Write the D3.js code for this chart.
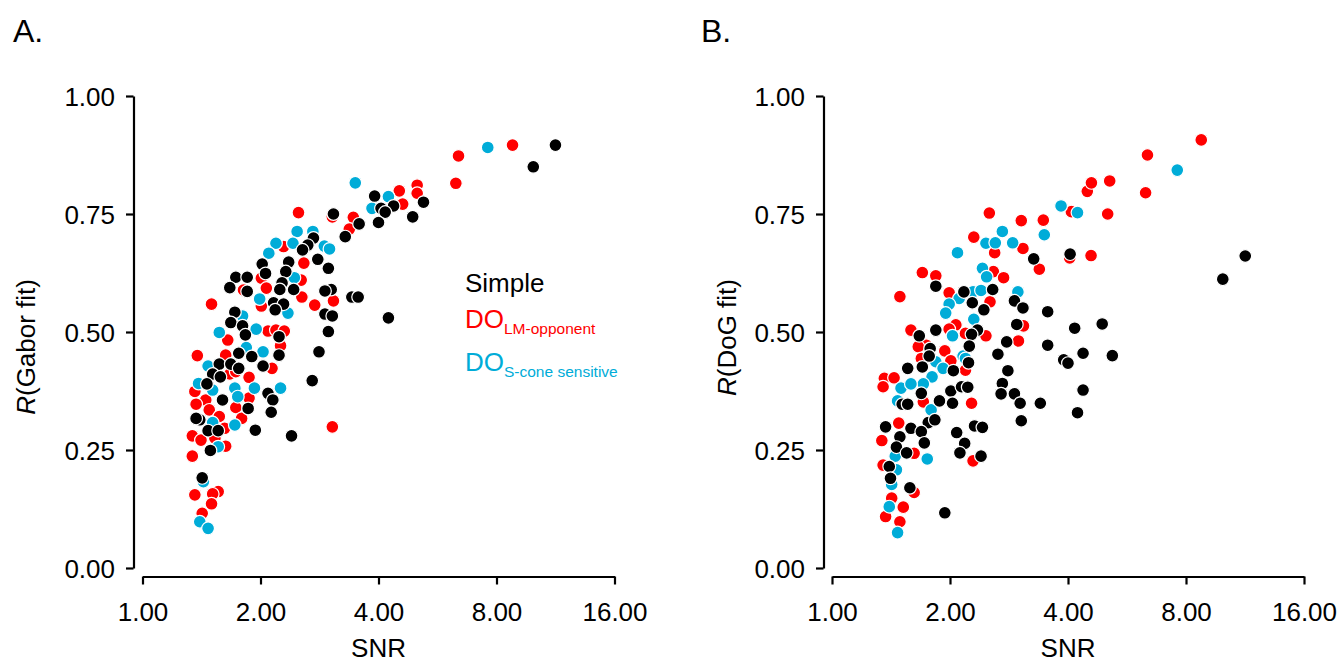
<!DOCTYPE html>
<html>
<head>
<meta charset="utf-8">
<script src="https://cdn.jsdelivr.net/npm/d3@7"></script>
<style>
  body { margin: 0; background: #fff; }
  svg { display: block; }
  text { font-family: "Liberation Sans", Arial, Helvetica, sans-serif; }
</style>
</head>
<body>
<svg id="fig" width="1343" height="664"></svg>
<script>
// Axis ticks
const xTicks = [1, 2, 4, 8, 16];
const yTicks = [0, 0.25, 0.5, 0.75, 1];

// Group names used in the legend
const groupNames = ["Simple", "LM-opponent", "S-cone sensitive"];

// Panel A: correlation of the Gabor fit vs SNR, [SNR, R]
const gaborLM = [
  [2.50,0.753],[2.29,0.681],[2.58,0.646],[2.01,0.614],[2.54,0.610],[1.81,0.589],[2.07,0.593],[2.55,0.574],
  [3.07,0.566],[2.01,0.555],[1.50,0.559],[2.75,0.557],[1.65,0.483],[2.09,0.502],[2.19,0.504],[2.30,0.502],
  [2.25,0.471],[1.63,0.451],[1.38,0.450],[2.14,0.423],[1.67,0.411],[1.87,0.404],[1.73,0.416],[1.36,0.374],
  [1.87,0.360],[1.45,0.356],[1.37,0.347],[1.48,0.335],[1.73,0.340],[1.57,0.321],[1.79,0.317],[1.62,0.296],
  [3.05,0.299],[1.34,0.280],[1.41,0.271],[1.53,0.275],[1.63,0.258],[1.34,0.237],[1.36,0.155],[1.56,0.162],
  [1.51,0.157],[1.50,0.136],[1.42,0.116],[4.52,0.799],[5.02,0.811],[5.02,0.794],[6.30,0.815],[4.61,0.771],
  [3.45,0.743],[3.37,0.718],[6.40,0.873],[8.79,0.896],[3.05,0.744]
];
const gaborS = [
  [2.48,0.713],[2.72,0.713],[2.19,0.688],[2.42,0.688],[2.91,0.682],[3.00,0.676],[2.10,0.667],[2.44,0.615],
  [1.99,0.570],[2.35,0.540],[1.80,0.534],[1.57,0.499],[1.95,0.506],[1.84,0.467],[2.03,0.458],[1.47,0.428],
  [1.39,0.391],[1.51,0.377],[1.72,0.381],[1.93,0.381],[2.25,0.381],[1.75,0.363],[1.51,0.308],[1.72,0.303],
  [1.56,0.257],[1.43,0.183],[1.40,0.098],[1.47,0.084],[3.49,0.816],[4.24,0.787],[3.85,0.762],[7.60,0.891]
];
const gaborSimple = [
  [3.07,0.750],[2.73,0.699],[2.64,0.684],[2.56,0.674],[2.80,0.654],[2.36,0.648],[2.02,0.644],[2.98,0.635],
  [2.32,0.628],[2.06,0.624],[1.73,0.616],[1.85,0.616],[2.27,0.604],[1.67,0.594],[1.85,0.586],[2.24,0.590],
  [2.43,0.590],[3.03,0.590],[2.92,0.587],[2.16,0.562],[2.29,0.559],[2.18,0.547],[2.92,0.538],[3.05,0.534],
  [1.72,0.542],[1.68,0.520],[1.80,0.513],[1.83,0.494],[2.23,0.490],[2.98,0.501],[1.76,0.455],[1.90,0.448],
  [2.23,0.451],[2.82,0.458],[1.57,0.432],[1.68,0.432],[1.76,0.423],[2.03,0.428],[1.51,0.411],[1.58,0.405],
  [1.46,0.390],[2.71,0.397],[2.09,0.370],[2.15,0.356],[1.60,0.356],[1.86,0.338],[2.13,0.330],[1.40,0.314],
  [1.37,0.317],[1.94,0.292],[2.40,0.280],[1.47,0.291],[1.56,0.291],[1.49,0.249],[1.42,0.191],[3.91,0.788],
  [4.37,0.767],[5.21,0.775],[4.06,0.762],[4.16,0.754],[4.00,0.732],[4.89,0.744],[3.57,0.729],[3.29,0.702],
  [3.42,0.574],[3.55,0.574],[4.24,0.530],[9.93,0.850],[11.31,0.896]
];

// Panel B: correlation of the DoG fit vs SNR, [SNR, R]
const dogLM = [
  [2.30,0.701],[3.07,0.677],[2.60,0.668],[2.58,0.628],[2.74,0.615],[1.70,0.626],[1.84,0.619],[1.49,0.575],
  [1.99,0.583],[2.53,0.564],[2.07,0.515],[1.59,0.504],[1.99,0.506],[2.19,0.497],[2.47,0.492],[2.99,0.481],
  [1.74,0.472],[1.66,0.469],[1.94,0.460],[1.69,0.444],[2.01,0.439],[2.19,0.419],[1.36,0.402],[1.44,0.403],
  [1.35,0.384],[1.71,0.352],[2.27,0.349],[1.48,0.307],[1.34,0.270],[1.62,0.243],[2.29,0.227],[1.35,0.218],
  [1.62,0.160],[1.42,0.148],[1.52,0.129],[1.37,0.109],[1.49,0.098],[4.48,0.798],[4.59,0.816],[6.31,0.795],
  [4.08,0.755],[5.05,0.750],[3.04,0.736],[3.46,0.737],[4.58,0.662],[3.38,0.633],[8.75,0.907],[6.38,0.875],
  [2.52,0.752],[4.04,0.657],[5.11,0.820],[3.08,0.513]
];
const dogS = [
  [2.47,0.688],[2.61,0.689],[2.72,0.713],[2.89,0.689],[2.09,0.668],[2.42,0.635],[2.48,0.617],[2.98,0.585],
  [2.29,0.585],[2.40,0.588],[2.11,0.571],[1.99,0.559],[1.95,0.540],[2.30,0.527],[2.03,0.492],[2.16,0.449],
  [2.19,0.444],[1.84,0.437],[1.92,0.423],[1.80,0.405],[1.50,0.381],[1.71,0.390],[1.59,0.390],[1.47,0.354],
  [1.79,0.335],[1.45,0.237],[1.75,0.231],[1.46,0.208],[1.42,0.177],[1.40,0.130],[1.47,0.075],[3.84,0.767],
  [4.23,0.753],[3.48,0.706],[7.60,0.843]
];
const dogSimple = [
  [1.84,0.597],[2.17,0.585],[2.57,0.590],[2.28,0.562],[2.92,0.566],[3.07,0.551],[2.44,0.547],[2.96,0.516],
  [1.84,0.504],[2.35,0.504],[2.27,0.495],[1.67,0.492],[2.79,0.479],[2.24,0.470],[1.78,0.465],[1.77,0.449],
  [2.65,0.453],[1.70,0.426],[2.23,0.435],[1.56,0.423],[2.04,0.418],[2.81,0.418],[2.72,0.391],[1.69,0.370],
  [2.01,0.375],[2.14,0.384],[2.22,0.383],[2.70,0.369],[2.92,0.369],[1.51,0.347],[1.56,0.347],[1.88,0.354],
  [2.03,0.349],[3.04,0.312],[1.37,0.299],[1.59,0.296],[1.76,0.308],[1.83,0.314],[1.69,0.289],[1.49,0.278],
  [1.72,0.265],[2.31,0.301],[2.42,0.298],[2.08,0.287],[2.18,0.264],[1.46,0.256],[1.55,0.244],[2.12,0.244],
  [2.40,0.237],[1.40,0.215],[1.41,0.190],[1.58,0.170],[1.94,0.117],[3.27,0.655],[4.05,0.665],[3.55,0.543],
  [4.89,0.517],[4.16,0.508],[3.55,0.472],[4.37,0.455],[5.19,0.450],[3.90,0.441],[4.00,0.434],[4.37,0.377],
  [3.40,0.349],[4.23,0.329],[11.33,0.661],[9.93,0.612],[3.02,0.349]
];

const colors = { simple: "#000000", lm: "#ff0000", s: "#00acd8" };

const panels = [
  { letter: "A.", letterX: 13, title: "(Gabor fit)", left: 142.5, axisX: 133.5, titleX: 35,
    series: [[gaborLM, colors.lm], [gaborS, colors.s], [gaborSimple, colors.simple]], legend: true },
  { letter: "B.", letterX: 701, title: "(DoG fit)", left: 832, axisX: 823.5, titleX: 736,
    series: [[dogLM, colors.lm], [dogS, colors.s], [dogSimple, colors.simple]], legend: false }
];

const svg = d3.select("#fig");
const yTop = 96, yBottom = 568, xAxisY = 576.5, span = 472;
const fontSize = 26;

panels.forEach(p => {
  const g = svg.append("g");
  const x = d3.scaleLog().base(2).domain([1, 16]).range([p.left, p.left + span]);
  const y = d3.scaleLinear().domain([0, 1]).range([yBottom, yTop]);

  // panel letter
  g.append("text").attr("x", p.letterX).attr("y", 42)
    .attr("font-size", 32).attr("fill", "#000").text(p.letter);

  // x axis
  const xa = g.append("g").attr("transform", `translate(0,${xAxisY})`)
    .call(d3.axisBottom(x).tickValues(xTicks).tickFormat(d3.format(".2f"))
      .tickSize(8).tickSizeOuter(0).tickPadding(18));
  // y axis
  const ya = g.append("g").attr("transform", `translate(${p.axisX},0)`)
    .call(d3.axisLeft(y).tickValues(yTicks).tickFormat(d3.format(".2f"))
      .tickSize(7.5).tickSizeOuter(0).tickPadding(11));

  [xa, ya].forEach(a => {
    a.select(".domain").attr("stroke", "#000").attr("stroke-width", 2.2);
    a.selectAll(".tick line").attr("stroke", "#000").attr("stroke-width", 2.2);
    a.selectAll(".tick text").attr("font-size", fontSize).attr("fill", "#000")
      .attr("font-family", "'Liberation Sans', Arial, Helvetica, sans-serif");
  });
  ya.selectAll(".tick text").attr("dy", "0.36em");

  // axis titles
  g.append("text").attr("x", (p.left + p.left + span) / 2).attr("y", 657)
    .attr("text-anchor", "middle").attr("font-size", fontSize).attr("fill", "#000").text("SNR");
  const yt = g.append("text")
    .attr("transform", `translate(${p.titleX},279) rotate(-90)`)
    .attr("text-anchor", "end").attr("font-size", fontSize).attr("fill", "#000");
  yt.append("tspan").attr("font-style", "italic").text("R");
  yt.append("tspan").text(p.title);

  // points
  p.series.forEach(([data, col]) => {
    g.append("g").selectAll("circle").data(data).join("circle")
      .attr("cx", d => x(d[0]))
      .attr("cy", d => y(d[1]))
      .attr("r", 6.4)
      .attr("fill", col)
      .attr("stroke", "#fff")
      .attr("stroke-width", 1.2);
  });

  if (p.legend) {
    const lg = g.append("g");
    lg.append("text").attr("x", 465).attr("y", 292).attr("font-size", fontSize)
      .attr("fill", colors.simple).text(groupNames[0]);
    const t1 = lg.append("text").attr("x", 465).attr("y", 328).attr("font-size", fontSize).attr("fill", colors.lm);
    t1.append("tspan").text("DO");
    t1.append("tspan").attr("dy", 6).attr("font-size", 15.5).text(groupNames[1]);
    const t2 = lg.append("text").attr("x", 465).attr("y", 371).attr("font-size", fontSize).attr("fill", colors.s);
    t2.append("tspan").text("DO");
    t2.append("tspan").attr("dy", 6).attr("font-size", 15.5).text(groupNames[2]);
  }
});
</script>
</body>
</html>
